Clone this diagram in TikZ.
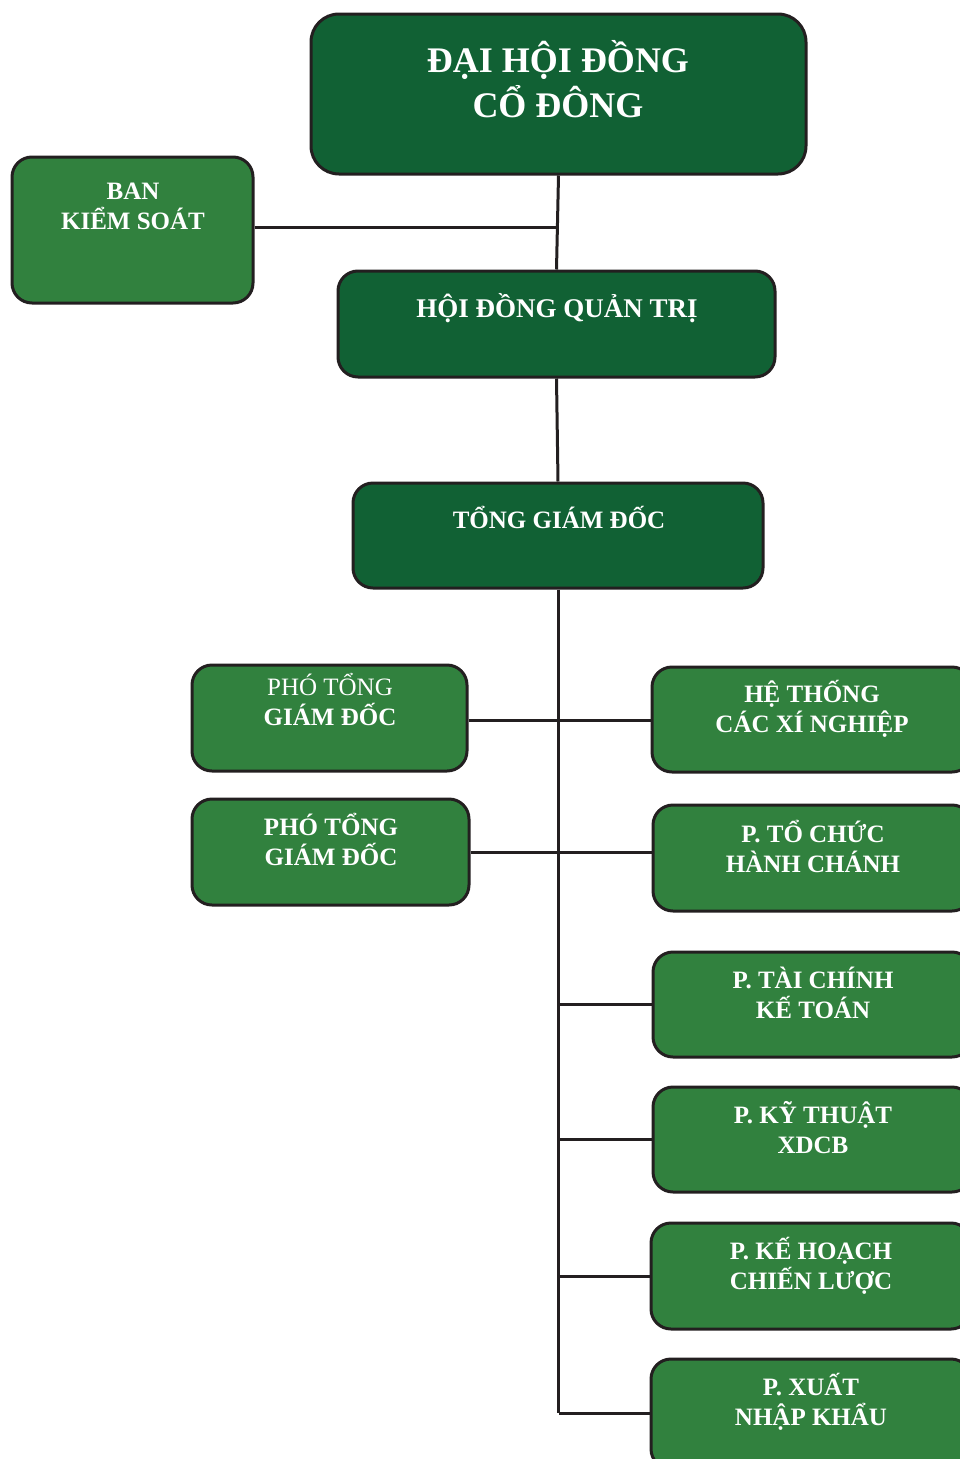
\documentclass[tikz,border=0pt]{standalone}
\usepackage{fontspec}
\setmainfont{Liberation Serif}
\definecolor{darkgreen}{HTML}{116134}
\definecolor{lightgreen}{HTML}{31813E}
\definecolor{edge}{HTML}{231F20}
\tikzset{
  box/.style={draw=edge, line width=3pt, rounded corners=20pt, inner sep=0pt},
  topbox/.style={box, fill=darkgreen},
  subbox/.style={box, fill=lightgreen},
  lbl/.style={text=white, align=center, anchor=base, inner sep=0pt,
    font=\bfseries\fontsize{25}{29.5}\selectfont},
  link/.style={draw=edge, line width=3pt}
}
\begin{document}
\begin{tikzpicture}[x=1pt,y=-1pt]
\useasboundingbox (0,0) rectangle (960,1459);

% boxes
\node[topbox, rounded corners=28pt, minimum width=495, minimum height=160] (dhdcd) at (558.5,94) {};
\node[subbox, minimum width=241, minimum height=146] (bks) at (132.5,230) {};
\node[topbox, minimum width=437, minimum height=106] (hdqt) at (556.5,324) {};
\node[topbox, minimum width=410, minimum height=105] (tgd) at (558,535.5) {};

\node[subbox, minimum width=275, minimum height=106] (ptgd1) at (329.5,718) {};
\node[subbox, minimum width=277, minimum height=106] (ptgd2) at (330.5,852) {};

\node[subbox, minimum width=320, minimum height=105] (htxn) at (812,719.5) {};
\node[subbox, minimum width=319, minimum height=106] (tchc) at (812.5,858) {};
\node[subbox, minimum width=319, minimum height=105] (tckt) at (812.5,1004.5) {};
\node[subbox, minimum width=319, minimum height=105] (ktxd) at (812.5,1139.5) {};
\node[subbox, minimum width=320, minimum height=106] (khcl) at (811,1276) {};
\node[subbox, minimum width=320, minimum height=110] (xnk) at (811,1414) {};

% texts (base = last line)
\node[lbl, font=\bfseries\fontsize{36}{45}\selectfont] (tdhdcd) at (558,117) {ĐẠI HỘI ĐỒNG\\CỔ ĐÔNG};
\node[lbl] (tbks) at (133,229) {BAN\\KIỂM SOÁT};
\node[lbl, font=\bfseries\fontsize{27}{32}\selectfont] (thdqt) at (557,317) {HỘI ĐỒNG QUẢN TRỊ};
\node[lbl] (ttgd) at (559,528) {TỔNG GIÁM ĐỐC};
\node[lbl] (tptgd1) at (330,725) {{\mdseries PHÓ TỔNG}\\GIÁM ĐỐC};
\node[lbl] (tptgd2) at (331,865) {PHÓ TỔNG\\GIÁM ĐỐC};
\node[lbl] (thtxn) at (812,732) {HỆ THỐNG\\CÁC XÍ NGHIỆP};
\node[lbl] (ttchc) at (813,872) {P. TỔ CHỨC\\HÀNH CHÁNH};
\node[lbl] (ttckt) at (813,1018) {P. TÀI CHÍNH\\KẾ TOÁN};
\node[lbl] (tktxd) at (813,1153) {P. KỸ THUẬT\\XDCB};
\node[lbl] (tkhcl) at (811,1289) {P. KẾ HOẠCH\\CHIẾN LƯỢC};
\node[lbl] (txnk) at (811,1425) {P. XUẤT\\NHẬP KHẨU};

% lines
\coordinate (trunkend) at (559,1413);
\draw[link] (dhdcd.south) -- (hdqt.north);
\draw[link] ([yshift=3pt]bks.east) -- ([yshift=3pt]bks.east -| dhdcd.south);
\draw[link] (hdqt.south) -- (tgd.north);
\draw[link] (tgd.south) -- (tgd.south |- trunkend);
\draw[link] ([yshift=-2pt]ptgd1.east) -- ([yshift=-2pt]ptgd1.east -| htxn.west);
\draw[link] (ptgd2.east) -- (ptgd2.east -| tchc.west);
\draw[link] (tckt.west) -- (tckt.west -| tgd.south);
\draw[link] (ktxd.west) -- (ktxd.west -| tgd.south);
\draw[link] (khcl.west) -- (khcl.west -| tgd.south);
\draw[link] (trunkend) -- (trunkend -| xnk.west);
\end{tikzpicture}
\end{document}
